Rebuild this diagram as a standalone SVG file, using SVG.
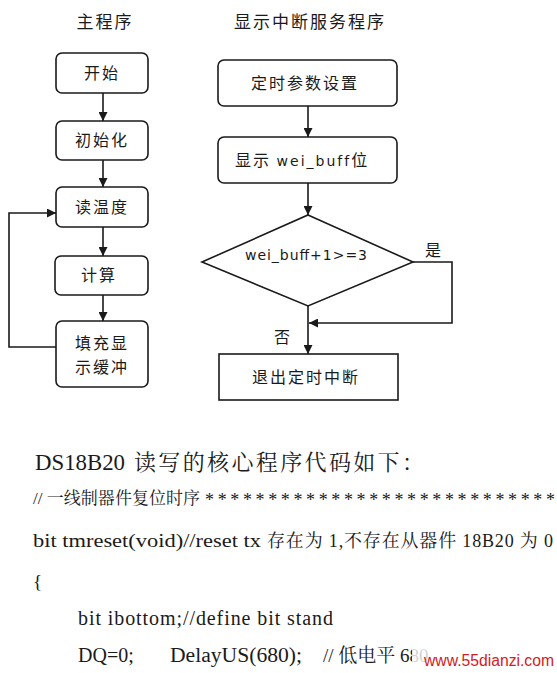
<svg xmlns="http://www.w3.org/2000/svg" width="557" height="673" viewBox="0 0 557 673">
<style>
.box{fill:#fff;stroke:#1a1a1a;stroke-width:1.6}
.ln{fill:none;stroke:#1a1a1a;stroke-width:1.6}
.cjk{font-family:"Noto Sans CJK SC","Noto Sans",sans-serif;fill:#1a1a1a}
.lbl{font-size:16px;text-anchor:middle;letter-spacing:2px}
.lat{font-family:"DejaVu Sans","Noto Sans CJK SC",sans-serif;fill:#1a1a1a}
.ser{font-family:"Liberation Serif","Noto Serif CJK SC","Noto Sans CJK SC",serif;fill:#1a1a1a}
</style>
<defs>
<marker id="ah" viewBox="0 0 10 10" refX="10" refY="5" markerWidth="9" markerHeight="9" markerUnits="userSpaceOnUse" orient="auto">
<path d="M0,0 L10,5 L0,10 Z" fill="#1a1a1a"/>
</marker>
</defs>
<rect width="557" height="673" fill="#fff"/>

<text class="cjk" x="105" y="28" font-size="17" text-anchor="middle" letter-spacing="2">主程序</text>
<text class="cjk" x="310" y="28" font-size="17" text-anchor="middle" letter-spacing="2">显示中断服务程序</text>

<g id="connectors">
<line class="ln" x1="103" y1="93" x2="103" y2="121" marker-end="url(#ah)"/>
<line class="ln" x1="103" y1="160" x2="103" y2="187" marker-end="url(#ah)"/>
<line class="ln" x1="103" y1="227" x2="103" y2="256" marker-end="url(#ah)"/>
<line class="ln" x1="103" y1="295" x2="103" y2="321" marker-end="url(#ah)"/>
<polyline class="ln" points="56,347 9,347 9,213 56,213" marker-end="url(#ah)"/>
<line class="ln" x1="308" y1="106" x2="308" y2="137" marker-end="url(#ah)"/>
<line class="ln" x1="308" y1="183" x2="308" y2="215" marker-end="url(#ah)"/>
<line class="ln" x1="308" y1="306" x2="308" y2="354" marker-end="url(#ah)"/>
<polyline class="ln" points="413,262 452,262 452,323 309,323" marker-end="url(#ah)"/>
<text class="cjk" x="433" y="256" font-size="16" text-anchor="middle">是</text>
<text class="cjk" x="282" y="343" font-size="16" text-anchor="middle">否</text>
</g>

<g id="n_start"><rect class="box" x="56" y="53" width="92" height="40" rx="6"/><text class="cjk lbl" x="102" y="79">开始</text></g>
<g id="n_init"><rect class="box" x="56" y="121" width="92" height="39" rx="6"/><text class="cjk lbl" x="102" y="146">初始化</text></g>
<g id="n_read"><rect class="box" x="56" y="187" width="92" height="40" rx="6"/><text class="cjk lbl" x="102" y="213">读温度</text></g>
<g id="n_calc"><rect class="box" x="55" y="256" width="93" height="39" rx="6"/><text class="cjk lbl" x="99" y="281">计算</text></g>
<g id="n_fill"><rect class="box" x="56" y="321" width="92" height="66" rx="6"/><text class="cjk lbl" x="102" y="349">填充显</text><text class="cjk lbl" x="102" y="373">示缓冲</text></g>

<g id="n_timer"><rect class="box" x="218" y="60" width="179" height="46" rx="6"/><text class="cjk lbl" x="305" y="89">定时参数设置</text></g>
<g id="n_show"><rect class="box" x="218" y="137" width="179" height="46" rx="6"/><text class="cjk" x="235" y="166" font-size="16" letter-spacing="2">显示 <tspan class="lat" font-size="14">wei_buff</tspan>位</text></g>
<g id="n_cond"><polygon class="box" points="308,215 413,262 308,306 202,262"/><text class="lat" x="245" y="260" font-size="14" textLength="122" lengthAdjust="spacing">wei_buff+1&gt;=3</text></g>
<g id="n_exit"><rect class="box" x="219" y="354" width="179" height="46"/><text class="cjk lbl" x="306" y="383">退出定时中断</text></g>

<g id="code">
<text class="ser" x="35" y="470" font-size="23" textLength="90" lengthAdjust="spacingAndGlyphs">DS18B20</text>
<text class="ser" x="134" y="470" font-size="22" textLength="290" lengthAdjust="spacing">读写的核心程序代码如下：</text>
<text class="ser" x="33" y="504" font-size="17" textLength="167" lengthAdjust="spacing">// 一线制器件复位时序</text>
<text class="ser" x="205" y="506" font-size="18" textLength="350" lengthAdjust="spacing">****************************</text>
<text class="ser" x="33" y="547" font-size="19" textLength="228" lengthAdjust="spacingAndGlyphs">bit tmreset(void)//reset tx</text>
<text class="ser" x="267" y="547" font-size="18" textLength="286" lengthAdjust="spacing">存在为 1,不存在从器件 18B20 为 0</text>
<text class="ser" x="33" y="588" font-size="19">{</text>
<text class="ser" x="78" y="625" font-size="20" textLength="255" lengthAdjust="spacing">bit ibottom;//define bit stand</text>
<text class="ser" x="78" y="662" font-size="20">DQ=0;</text>
<text class="ser" x="170" y="662" font-size="20" textLength="132" lengthAdjust="spacingAndGlyphs">DelayUS(680);</text>
<text class="ser" x="323" y="662" font-size="19">// 低电平 680</text>
<rect x="412" y="643" width="145" height="30" fill="#fff" opacity="0.8"/>
<text x="424" y="666" font-family="Liberation Sans,Arial,sans-serif" font-size="16" fill="#d42020" textLength="130" lengthAdjust="spacingAndGlyphs">www.55dianzi.com</text>
</g>
</svg>
